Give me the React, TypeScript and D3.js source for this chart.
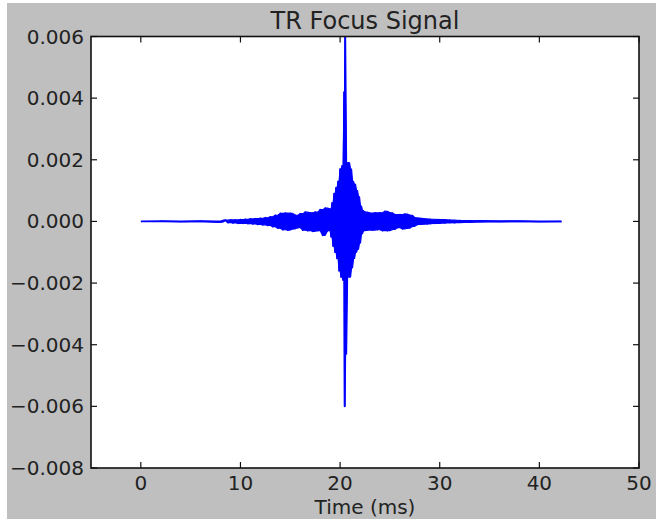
import React from 'react';
import { scaleLinear, line, area, format } from 'd3';

// samples: [time (ms), amplitude]
const leadIn: [number, number][] = [
    [0, 0], [2, 0.00001], [4, -0.00001], [6, 0.00001], [8, -0.00002], [8.25, 0.00003],
];

const buildUp: [number, number][] = [
    [8.5, 0.00004], [8.75, -0.00004], [9.0, 0.00005], [9.25, -0.00005], [9.5, 0.00005],
    [9.75, -0.00006], [10.0, 0.00006], [10.25, -0.00006], [10.5, 0.00007], [10.75, -0.00007],
    [11.0, 0.00008], [11.25, -0.00008], [11.5, 0.00009], [11.75, -0.0001], [12.0, 0.0001],
    [12.25, -0.00011], [12.5, 0.00012], [12.75, -0.00013], [13.0, 0.00015], [13.25, -0.00017],
    [13.5, 0.0002], [13.75, -0.00022], [14.0, 0.00026], [14.25, -0.00027], [14.5, 0.00027],
    [14.75, -0.00028], [15.0, 0.00026], [15.25, -0.00024], [15.5, 0.0002], [15.75, -0.0002],
    [16.0, 0.00025], [16.25, -0.00028], [16.5, 0.0003], [16.75, -0.0003], [17.0, 0.00028],
    [17.25, -0.00032], [17.5, 0.0003], [17.75, -0.0003], [18.0, 0.00038], [18.25, -0.00045],
    [18.5, 0.00043], [18.75, -0.0003], [19.0, 0.0004],
];

const focus: [number, number][] = [
    [19.1, -0.0005], [19.2, 0.0006], [19.3, -0.0008], [19.4, 0.0009], [19.5, -0.001],
    [19.6, 0.0011], [19.7, -0.0012], [19.8, 0.0013], [19.9, -0.0016], [20.0, 0.0017],
    [20.1, -0.0018], [20.2, 0.0018], [20.3, -0.0019], [20.4, 0.0042], [20.45, -0.006],
    [20.5, 0.00598], [20.55, -0.0043], [20.65, 0.0019], [20.75, -0.0018], [20.85, 0.0019],
    [20.95, -0.0018], [21.05, 0.0017], [21.15, -0.0015], [21.25, 0.0013], [21.35, -0.0012],
    [21.45, 0.0012], [21.55, -0.001], [21.65, 0.001], [21.75, -0.0009], [21.85, 0.0008],
    [21.95, -0.0007], [22.05, 0.0005], [22.15, -0.0004], [22.25, 0.00035], [22.35, -0.0003],
];

const decay: [number, number][] = [
    [22.5, 0.0003], [22.75, -0.00028], [23.0, 0.00027], [23.25, -0.00028], [23.5, 0.00028],
    [23.75, -0.00027], [24.0, 0.00028], [24.25, -0.0003], [24.5, 0.00033], [24.75, -0.0003],
    [25.0, 0.00028], [25.25, -0.00026], [25.5, 0.00022], [25.75, -0.0002], [26.0, 0.00022],
    [26.25, -0.00024], [26.5, 0.00024], [26.75, -0.00022], [27.0, 0.0002], [27.25, -0.00016],
    [27.5, 0.00012], [27.75, -0.0001], [28.0, 0.0001], [28.25, -0.00009], [28.5, 0.00008],
    [28.75, -0.00008], [29.0, 0.00007], [29.5, -0.00006], [30.0, 0.00006], [30.5, -0.00005],
    [31.0, 0.00004], [31.5, -0.00004], [32.0, 0.00003],
];

const tail: [number, number][] = [
    [33, -0.00002], [34, 0.00002], [36, -0.00001], [38, 0.00001], [40, -0.00001], [42.2, 0],
];

const xTicks = [0, 10, 20, 30, 40, 50];
const yTicks = [-0.008, -0.006, -0.004, -0.002, 0, 0.002, 0.004, 0.006];

const App = () => {
    const width = 656;
    const height = 519;
    const plot = { left: 91, right: 639, top: 36.5, bottom: 468 };

    const x = scaleLinear().domain([-5, 50]).range([plot.left, plot.right]);
    const y = scaleLinear().domain([-0.008, 0.006]).range([plot.bottom, plot.top]);

    const data = [...leadIn, ...buildUp, ...focus, ...decay, ...tail];
    const path = line<[number, number]>()
        .x(d => x(d[0]))
        .y(d => y(d[1]))(data) || '';

    // the oscillation is far denser than the pixels, so it renders as a solid band:
    // fill between each pair of neighbouring samples
    const pairs = data.slice(1).map((d, i) => ({
        t: d[0],
        lo: Math.min(d[1], data[i][1]),
        hi: Math.max(d[1], data[i][1]),
    }));
    const band = area<{ t: number; lo: number; hi: number }>()
        .x(d => x(d.t))
        .y0(d => y(d.lo))
        .y1(d => y(d.hi))(pairs) || '';

    const fmt = format('.3f');
    const font = 'DejaVu Sans, sans-serif';
    const tickLen = 6;

    return (
        <svg width={width} height={height} style={{ position: 'absolute', left: 0, top: 0 }}>
            <rect x={0} y={0} width={width} height={height} fill="#ffffff" />
            <rect x={7} y={3} width={width - 7} height={height - 3} fill="#bfbfbf" />
            <rect x={plot.left} y={plot.top} width={plot.right - plot.left} height={plot.bottom - plot.top} fill="#ffffff" />

            <defs>
                <clipPath id="plotClip">
                    <rect x={plot.left} y={plot.top} width={plot.right - plot.left} height={plot.bottom - plot.top} />
                </clipPath>
            </defs>

            <g clipPath="url(#plotClip)">
                <path d={band} fill="#0000ff" stroke="#0000ff" strokeWidth={1.2} strokeLinejoin="round" />
                <path d={path} fill="none" stroke="#0000ff" strokeWidth={1.7} strokeLinejoin="round" />
            </g>

            {/* ticks, inward on all four sides */}
            {xTicks.map(t => (
                <g key={'x' + t}>
                    <line x1={x(t)} x2={x(t)} y1={plot.bottom} y2={plot.bottom - tickLen} stroke="#111" strokeWidth={1.2} />
                    <line x1={x(t)} x2={x(t)} y1={plot.top} y2={plot.top + tickLen} stroke="#111" strokeWidth={1.2} />
                    <text x={x(t)} y={490} textAnchor="middle" fontFamily={font} fontSize={20} fill="#222">{t}</text>
                </g>
            ))}
            {yTicks.map(t => (
                <g key={'y' + t}>
                    <line x1={plot.left} x2={plot.left + tickLen} y1={y(t)} y2={y(t)} stroke="#111" strokeWidth={1.2} />
                    <line x1={plot.right} x2={plot.right - tickLen} y1={y(t)} y2={y(t)} stroke="#111" strokeWidth={1.2} />
                    <text x={84} y={y(t) + 7} textAnchor="end" fontFamily={font} fontSize={20} fill="#222">{fmt(t)}</text>
                </g>
            ))}

            <rect x={plot.left} y={plot.top} width={plot.right - plot.left} height={plot.bottom - plot.top} fill="none" stroke="#111" strokeWidth={1.6} />

            <text x={(plot.left + plot.right) / 2} y={29} textAnchor="middle" fontFamily={font} fontSize={24} fill="#222">TR Focus Signal</text>
            <text x={(plot.left + plot.right) / 2} y={514} textAnchor="middle" fontFamily={font} fontSize={20} fill="#222">Time (ms)</text>
        </svg>
    );
};

export default App;
